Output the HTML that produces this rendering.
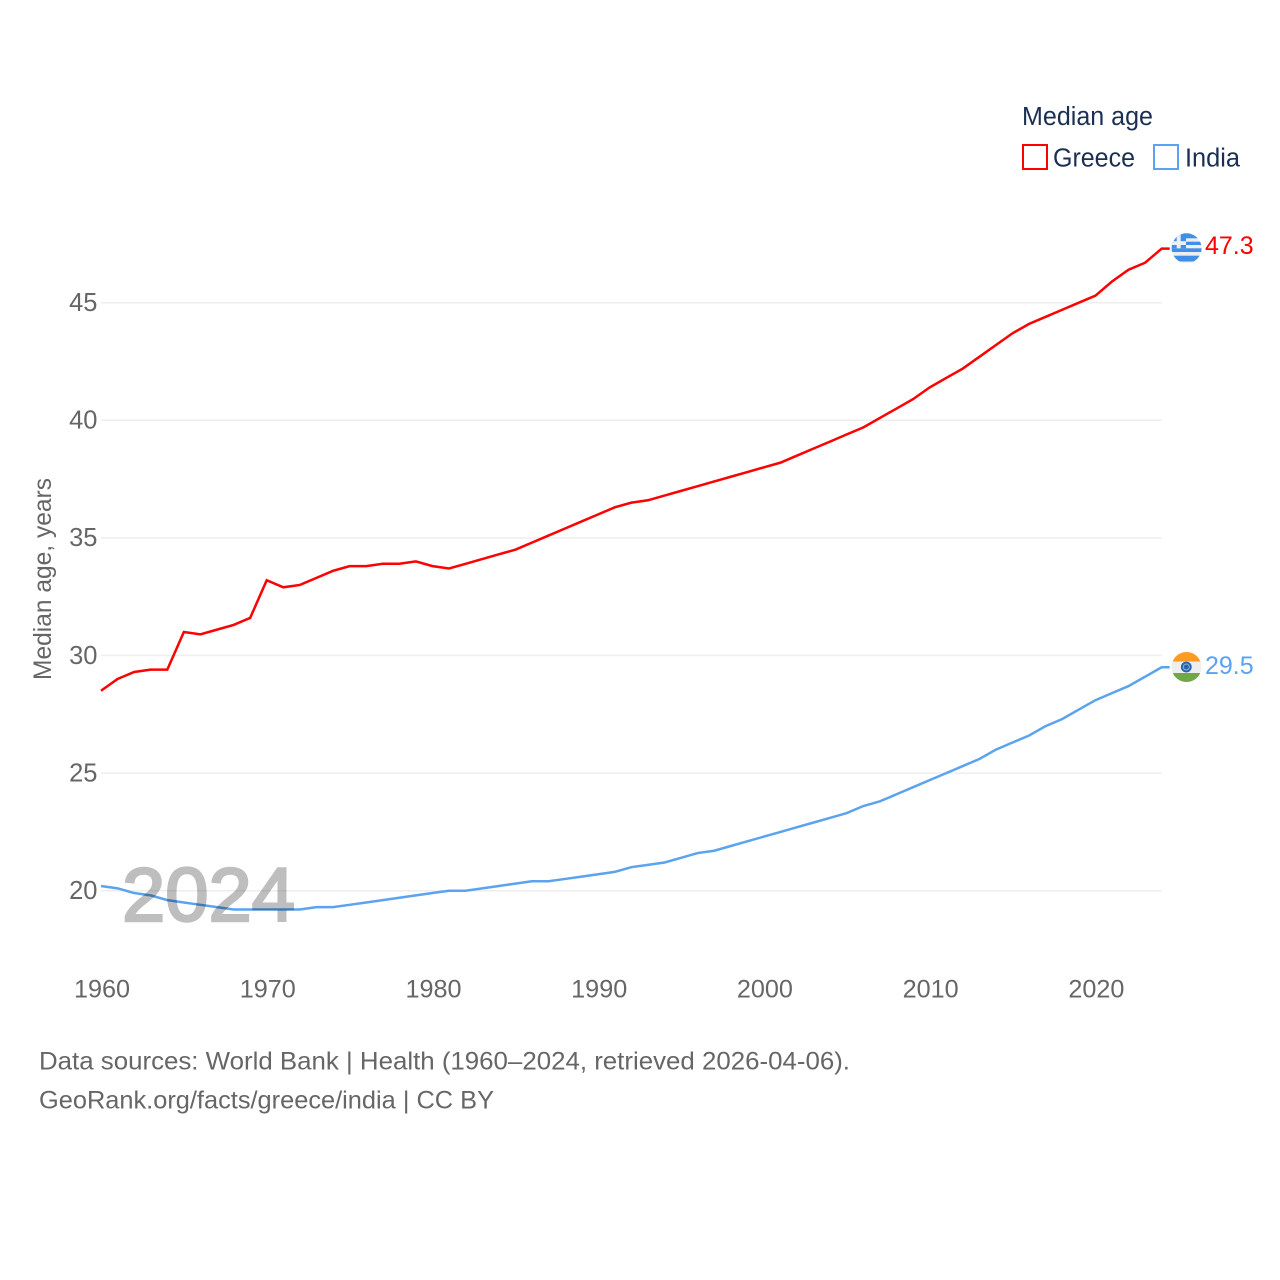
<!DOCTYPE html>
<html lang="en">
<head>
<meta charset="utf-8">
<title>Median age: Greece and India</title>
<style>
html,body{margin:0;padding:0;background:#fff;width:1280px;height:1280px;overflow:hidden}
svg{display:block}
text{font-family:"Liberation Sans",sans-serif}
</style>
</head>
<body>
<svg id="chart" xmlns="http://www.w3.org/2000/svg" width="1280" height="1280" viewBox="0 0 1280 1280">
  <defs>
    <clipPath id="flag-clip-gr"><circle cx="1186.6" cy="248.3" r="15"/></clipPath>
    <clipPath id="flag-clip-in"><circle cx="1186.5" cy="667" r="15"/></clipPath>
  </defs>
  <g id="grid"></g>
  <g id="y-ticks" font-size="25.5" fill="#666666" text-anchor="end"></g>
  <g id="x-ticks" font-size="25.2" fill="#666666" text-anchor="middle"></g>
  <text transform="translate(51,680) rotate(-90)" font-size="25" fill="#666666" textLength="202" lengthAdjust="spacingAndGlyphs">Median age, years</text>
  <g id="lines"></g>
  <text x="122" y="921" font-size="76" fill="#000000" stroke="#000000" stroke-width="2.5" opacity="0.25" textLength="173" lengthAdjust="spacingAndGlyphs">2024</text>

  <g clip-path="url(#flag-clip-gr)">
    <rect x="1171" y="233" width="31" height="31" fill="#eeeeee"/>
    <rect x="1171" y="233" width="31" height="5.3" fill="#3f8ee8"/>
    <rect x="1171" y="241.7" width="31" height="3.3" fill="#3f8ee8"/>
    <rect x="1171" y="248.3" width="31" height="3.7" fill="#3f8ee8"/>
    <rect x="1171" y="255.7" width="31" height="5.8" fill="#3f8ee8"/>
    <rect x="1171" y="233" width="15" height="15.3" fill="#3f8ee8"/>
    <rect x="1171" y="241.2" width="15" height="3.8" fill="#eeeeee"/>
    <rect x="1176.7" y="233" width="4" height="15.3" fill="#eeeeee"/>
  </g>
  <g clip-path="url(#flag-clip-in)">
    <rect x="1171" y="651" width="31" height="10.5" fill="#ff9a22"/>
    <rect x="1171" y="661.5" width="31" height="11.5" fill="#eeeeee"/>
    <rect x="1171" y="673" width="31" height="10" fill="#70a844"/>
    <circle cx="1186.3" cy="667" r="5.4" fill="#2a64b0"/>
    <circle cx="1186.3" cy="667" r="3" fill="none" stroke="#8fb2dc" stroke-width="1"/>
    <circle cx="1186.3" cy="667" r="1" fill="#2a64b0"/>
  </g>
  <g id="end-labels" font-size="25"></g>

  <g>
    <text x="1022" y="125" font-size="25.5" fill="#1b2f52" textLength="131" lengthAdjust="spacingAndGlyphs">Median age</text>
    <g>
      <rect x="1023" y="145" width="24" height="24" fill="none" stroke="#ff0000" stroke-width="2"/>
      <text x="1053" y="166.5" font-size="25.5" fill="#1b2f52" textLength="82" lengthAdjust="spacingAndGlyphs">Greece</text>
    </g>
    <g>
      <rect x="1154" y="145" width="24" height="24" fill="none" stroke="#5ba3ef" stroke-width="2"/>
      <text x="1185" y="166.5" font-size="25.5" fill="#1b2f52" textLength="55" lengthAdjust="spacingAndGlyphs">India</text>
    </g>
  </g>

  <g font-size="25" fill="#666666">
    <text x="39" y="1069.5" textLength="811" lengthAdjust="spacingAndGlyphs">Data sources: World Bank | Health (1960–2024, retrieved 2026-04-06).</text>
    <text x="39" y="1108.5" textLength="455" lengthAdjust="spacingAndGlyphs">GeoRank.org/facts/greece/india | CC BY</text>
  </g>
</svg>
<script>
const firstYear = 1960;
const greeceValues = [28.5,29.0,29.3,29.4,29.4,31.0,30.9,31.1,31.3,31.6,33.2,32.9,33.0,33.3,33.6,33.8,33.8,33.9,33.9,34.0,33.8,33.7,33.9,34.1,34.3,34.5,34.8,35.1,35.4,35.7,36.0,36.3,36.5,36.6,36.8,37.0,37.2,37.4,37.6,37.8,38.0,38.2,38.5,38.8,39.1,39.4,39.7,40.1,40.5,40.9,41.4,41.8,42.2,42.7,43.2,43.7,44.1,44.4,44.7,45.0,45.3,45.9,46.4,46.7,47.3];
const indiaValues = [20.2,20.1,19.9,19.8,19.6,19.5,19.4,19.3,19.2,19.2,19.2,19.2,19.2,19.3,19.3,19.4,19.5,19.6,19.7,19.8,19.9,20.0,20.0,20.1,20.2,20.3,20.4,20.4,20.5,20.6,20.7,20.8,21.0,21.1,21.2,21.4,21.6,21.7,21.9,22.1,22.3,22.5,22.7,22.9,23.1,23.3,23.6,23.8,24.1,24.4,24.7,25.0,25.3,25.6,26.0,26.3,26.6,27.0,27.3,27.7,28.1,28.4,28.7,29.1,29.5];
const yTickValues = [20,25,30,35,40,45];
const xTickValues = [1960,1970,1980,1990,2000,2010,2020];

const NS = 'http://www.w3.org/2000/svg';
function xScale(year){ return 101 + (year - 1960) * (1161.7 - 101) / 64; }
function yScale(v){ return 890.7 - (v - 20) * (890.7 - 302.7) / 25; }

const gridG = document.getElementById('grid');
const yG = document.getElementById('y-ticks');
yTickValues.forEach(function(t){
  const ln = document.createElementNS(NS,'line');
  
  
  ln.setAttribute('x1', xScale(1960));
  ln.setAttribute('x2', xScale(2024));
  ln.setAttribute('y1', yScale(t));
  ln.setAttribute('y2', yScale(t));
  ln.setAttribute('stroke', '#eeeeee');
  ln.setAttribute('stroke-width', '1.5');
  gridG.appendChild(ln);
  const tx = document.createElementNS(NS,'text');
  
  
  tx.setAttribute('x', 97.5);
  tx.setAttribute('y', yScale(t) + 8.3);
  tx.textContent = t;
  yG.appendChild(tx);
});

const xG = document.getElementById('x-ticks');
xTickValues.forEach(function(t){
  const tx = document.createElementNS(NS,'text');
  
  
  tx.setAttribute('x', xScale(t) + 1);
  tx.setAttribute('y', 997.5);
  tx.textContent = t;
  xG.appendChild(tx);
});

function linePoints(values){
  const pts = values.map(function(v,i){ return xScale(firstYear + i).toFixed(2) + ',' + yScale(v).toFixed(2); });
  const last = values[values.length - 1];
  pts.push((xScale(firstYear + values.length - 1) + 8).toFixed(2) + ',' + yScale(last).toFixed(2));
  return pts.join(' ');
}

const linesG = document.getElementById('lines');
const indiaLine = document.createElementNS(NS,'polyline');


indiaLine.setAttribute('points', linePoints(indiaValues));
indiaLine.setAttribute('fill', 'none');
indiaLine.setAttribute('stroke', '#5ba3ef');
indiaLine.setAttribute('stroke-width', '2.5');
linesG.appendChild(indiaLine);

const greeceLine = document.createElementNS(NS,'polyline');


greeceLine.setAttribute('points', linePoints(greeceValues));
greeceLine.setAttribute('fill', 'none');
greeceLine.setAttribute('stroke', '#ff0000');
greeceLine.setAttribute('stroke-width', '2.5');
linesG.appendChild(greeceLine);

const endG = document.getElementById('end-labels');
const greeceEnd = document.createElementNS(NS,'text');


greeceEnd.setAttribute('x', 1205);
greeceEnd.setAttribute('y', 254);
greeceEnd.setAttribute('fill', '#ff0000');
greeceEnd.textContent = greeceValues[greeceValues.length - 1].toFixed(1);
endG.appendChild(greeceEnd);

const indiaEnd = document.createElementNS(NS,'text');


indiaEnd.setAttribute('x', 1205);
indiaEnd.setAttribute('y', 674);
indiaEnd.setAttribute('fill', '#5ba3ef');
indiaEnd.textContent = indiaValues[indiaValues.length - 1].toFixed(1);
endG.appendChild(indiaEnd);
</script>
</body>
</html>
